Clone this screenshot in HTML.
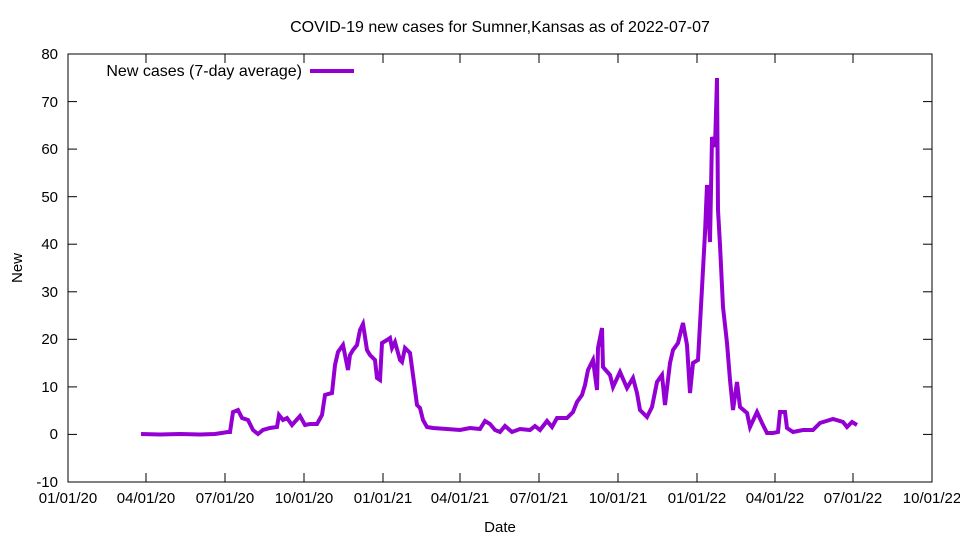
<!DOCTYPE html>
<html><head><meta charset="utf-8"><style>body{margin:0;background:#fff}svg{display:block}text{font-family:"Liberation Sans",sans-serif;font-size:15px;fill:#000}.big{font-size:16px}</style></head>
<body>
<svg width="960" height="540" viewBox="0 0 960 540">
<rect x="68" y="54" width="864" height="428" fill="none" stroke="#000" stroke-width="1"/>
<g stroke="#000" stroke-width="1">
<line x1="68" y1="482" x2="77" y2="482"/><line x1="932" y1="482" x2="923" y2="482"/>
<line x1="68" y1="434.4" x2="77" y2="434.4"/><line x1="932" y1="434.4" x2="923" y2="434.4"/>
<line x1="68" y1="386.9" x2="77" y2="386.9"/><line x1="932" y1="386.9" x2="923" y2="386.9"/>
<line x1="68" y1="339.3" x2="77" y2="339.3"/><line x1="932" y1="339.3" x2="923" y2="339.3"/>
<line x1="68" y1="291.8" x2="77" y2="291.8"/><line x1="932" y1="291.8" x2="923" y2="291.8"/>
<line x1="68" y1="244.2" x2="77" y2="244.2"/><line x1="932" y1="244.2" x2="923" y2="244.2"/>
<line x1="68" y1="196.7" x2="77" y2="196.7"/><line x1="932" y1="196.7" x2="923" y2="196.7"/>
<line x1="68" y1="149.1" x2="77" y2="149.1"/><line x1="932" y1="149.1" x2="923" y2="149.1"/>
<line x1="68" y1="101.6" x2="77" y2="101.6"/><line x1="932" y1="101.6" x2="923" y2="101.6"/>
<line x1="68" y1="54" x2="77" y2="54"/><line x1="932" y1="54" x2="923" y2="54"/>
<line x1="146" y1="482" x2="146" y2="473"/><line x1="146" y1="54" x2="146" y2="63"/>
<line x1="225" y1="482" x2="225" y2="473"/><line x1="225" y1="54" x2="225" y2="63"/>
<line x1="304" y1="482" x2="304" y2="473"/><line x1="304" y1="54" x2="304" y2="63"/>
<line x1="383" y1="482" x2="383" y2="473"/><line x1="383" y1="54" x2="383" y2="63"/>
<line x1="460" y1="482" x2="460" y2="473"/><line x1="460" y1="54" x2="460" y2="63"/>
<line x1="539" y1="482" x2="539" y2="473"/><line x1="539" y1="54" x2="539" y2="63"/>
<line x1="618" y1="482" x2="618" y2="473"/><line x1="618" y1="54" x2="618" y2="63"/>
<line x1="697" y1="482" x2="697" y2="473"/><line x1="697" y1="54" x2="697" y2="63"/>
<line x1="775" y1="482" x2="775" y2="473"/><line x1="775" y1="54" x2="775" y2="63"/>
<line x1="853" y1="482" x2="853" y2="473"/><line x1="853" y1="54" x2="853" y2="63"/>
</g>
<g text-anchor="end">
<text x="58" y="487">-10</text><text x="58" y="439">0</text><text x="58" y="392">10</text><text x="58" y="344">20</text><text x="58" y="297">30</text><text x="58" y="249">40</text><text x="58" y="202">50</text><text x="58" y="154">60</text><text x="58" y="107">70</text><text x="58" y="59">80</text>
</g>
<g text-anchor="middle">
<text x="68" y="503">01/01/20</text><text x="146" y="503">04/01/20</text><text x="225" y="503">07/01/20</text><text x="304" y="503">10/01/20</text><text x="383" y="503">01/01/21</text><text x="460" y="503">04/01/21</text><text x="539" y="503">07/01/21</text><text x="618" y="503">10/01/21</text><text x="697" y="503">01/01/22</text><text x="775" y="503">04/01/22</text><text x="853" y="503">07/01/22</text><text x="932" y="503">10/01/22</text>
<text x="500" y="532">Date</text>
<text class="big" x="500" y="32">COVID-19 new cases for Sumner,Kansas as of 2022-07-07</text>
<text x="0" y="0" transform="translate(22,268) rotate(-90)">New</text>
</g>
<text class="big" x="302" y="76" text-anchor="end">New cases (7-day average)</text>
<line x1="310" y1="71" x2="354" y2="71" stroke="#9400d3" stroke-width="4"/>
<polyline fill="none" stroke="#9400d3" stroke-width="4" stroke-linejoin="miter" points="141,434 160,434.5 180,434 200,434.5 215,434 228,432 230,432 233,412 238,410 242,418 248,420 253,430 258,434 263,430 270,428 277,427 279,415 283,420 287,418 292,425 300,416 305,425 310,424 317,424 322,415 325,395 328,394 332,393 335,365 338,352 343,345 348,370 350,355 353,350 357,345 360,330 363,324 367,350 370,355 375,360 377,378 380,380 382,343 387,340 390,338 392,348 395,342 400,360 402,362 405,348 410,353 413,375 417,405 420,408 423,420 427,427 433,428 447,429 460,430 470,428 480,429 485,421 490,424 495,430 500,432 505,426 512,432 520,429 530,430 535,426 540,430 547,421 552,427 557,418 567,418 573,412 577,402 582,395 585,385 588,370 593,360 597,390 598,348 602,328 603,367 610,375 613,387 620,372 627,388 633,378 637,393 640,410 647,417 652,407 657,382 662,375 665,405 670,363 673,350 678,343 683,323 687,345 690,393 693,363 698,360 702,288 705,233 707,185 710,242 712,137 715,147 717,78 718,210 720,245 723,307 727,343 730,380 733,410 737,382 740,407 747,413 750,427 757,412 762,423 767,433 773,433 778,432 780,412 785,412 787,428 793,432 803,430 813,430 820,423 833,419 843,422 847,427 852,422 857,425"/>
</svg>
</body></html>
